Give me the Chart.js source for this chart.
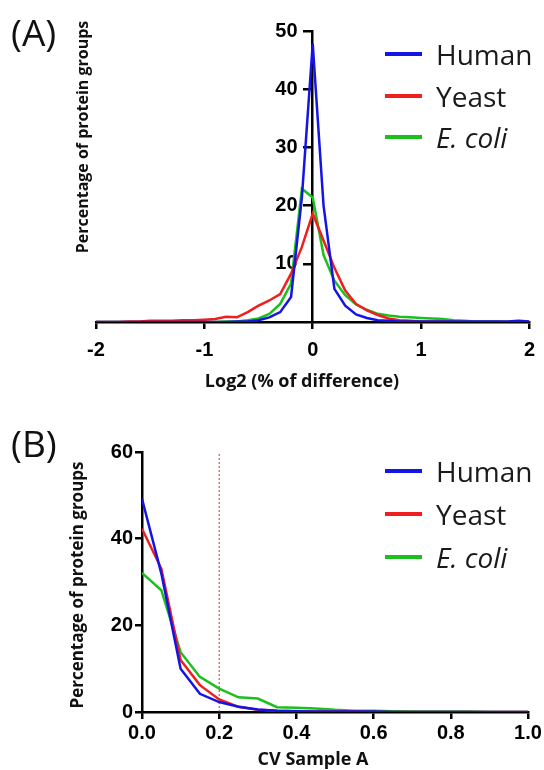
<!DOCTYPE html>
<html>
<head>
<meta charset="utf-8">
<script src="https://cdn.jsdelivr.net/npm/chart.js@4.4.1/dist/chart.umd.min.js"></script>
<style>
  body { margin: 0; background: #fff; }
  #wrap { position: relative; width: 544px; height: 770px; overflow: hidden; font-family: "Open Sans", sans-serif; color: #111; }
  canvas { position: absolute; left: 0; }
  .panel { position: absolute; font-size: 37px; line-height: 1; }
  .ytitle, .xtitle { position: absolute; font-weight: bold; white-space: nowrap; }
  .ytitle { font-size: 16px; transform: translate(-50%, -50%) rotate(-90deg); }
  .xtitle { font-size: 18px; transform: translate(-50%, -50%); }
  .leg { position: absolute; left: 385px; height: 40px; display: flex; align-items: center; font-size: 28px; color: #1a1a1a; }
  .leg span { display: inline-block; width: 37px; height: 4px; margin-right: 14px; }
</style>
</head>
<body>
<div id="wrap">
  <canvas id="graficaA" width="544" height="400" style="top:0"></canvas>
  <canvas id="graficaB" width="544" height="350" style="top:420px"></canvas>

  <div class="panel" style="left:11px;top:13px">(A)</div>
  <div class="panel" style="left:11px;top:424px">(B)</div>

  <div class="ytitle" style="left:82px;top:137px">Percentage of protein groups</div>
  <div class="ytitle" style="left:76px;top:585px;font-size:17px">Percentage of protein groups</div>
  <div class="xtitle" style="left:302px;top:380px">Log2 (% of difference)</div>
  <div class="xtitle" style="left:313px;top:758px">CV Sample A</div>

  <div class="leg" style="top:34px"><span style="background:#1414e6"></span>Human</div>
  <div class="leg" style="top:76px"><span style="background:#f01e1e"></span>Yeast</div>
  <div class="leg" style="top:117px"><span style="background:#1cc01c"></span><i>E. coli</i></div>

  <div class="leg" style="top:451px"><span style="background:#1414e6"></span>Human</div>
  <div class="leg" style="top:494px"><span style="background:#f01e1e"></span>Yeast</div>
  <div class="leg" style="top:537px"><span style="background:#1cc01c"></span><i>E. coli</i></div>
</div>

<script>
// (A) Log2 difference distribution
const diffBins = [-2.0, -1.9, -1.8, -1.7, -1.6, -1.5, -1.4, -1.3, -1.2, -1.1,
                  -1.0, -0.9, -0.8, -0.7, -0.6, -0.5, -0.4, -0.3, -0.2, -0.1,
                  0.0,
                  0.1, 0.2, 0.3, 0.4, 0.5, 0.6, 0.7, 0.8, 0.9, 1.0,
                  1.1, 1.2, 1.3, 1.4, 1.5, 1.6, 1.7, 1.8, 1.9, 2.0];
const diffHuman = [0, 0, 0, 0, 0, 0, 0, 0, 0, 0,
                   0, 0, 0, 0.1, 0.1, 0.3, 0.8, 1.7, 4.3, 21.4,
                   47.8,
                   20, 5.7, 2.8, 1.3, 0.7, 0.3, 0.2, 0.1, 0.1, 0.1,
                   0.1, 0.1, 0.1, 0.1, 0.1, 0.1, 0.1, 0.1, 0.2, 0.1];
const diffYeast = [0, 0, 0, 0.1, 0.1, 0.2, 0.2, 0.2, 0.3, 0.3,
                   0.4, 0.5, 0.9, 0.8, 1.7, 2.8, 3.7, 4.8, 8.3, 12.9,
                   18.6,
                   14, 9.3, 5.4, 3.1, 2.0, 1.2, 0.6, 0.3, 0.2, 0.1,
                   0.1, 0.1, 0, 0, 0, 0, 0, 0, 0, 0];
const diffEcoli = [0, 0, 0, 0, 0, 0, 0, 0, 0, 0,
                   0, 0, 0.1, 0.1, 0.3, 0.6, 1.4, 3.1, 6.6, 22.9,
                   21.4,
                   11.5, 7.1, 4.6, 3.0, 2.1, 1.4, 1.1, 0.9, 0.8, 0.7,
                   0.6, 0.5, 0.3, 0.2, 0.1, 0.1, 0.1, 0, 0, 0];
const diffXTicks = [-2, -1, 0, 1, 2];
const diffYTicks = [10, 20, 30, 40, 50];

// (B) CV distribution
const cvBins = [0, 0.05, 0.1, 0.15, 0.2, 0.25, 0.3, 0.35, 0.4, 0.45, 0.5,
                0.55, 0.6, 0.65, 0.7, 0.75, 0.8, 0.85, 0.9, 0.95, 1.0];
const cvHuman = [49.2, 32, 10, 4.2, 2.3, 1.2, 0.6, 0.3, 0.2, 0.1, 0.1,
                 0.1, 0.1, 0, 0, 0, 0, 0, 0, 0, 0];
const cvYeast = [42.3, 33.1, 12, 6.2, 2.9, 1.2, 0.5, 0.3, 0.2, 0.1, 0.1,
                 0.1, 0, 0, 0, 0, 0, 0, 0, 0, 0];
const cvEcoli = [32.1, 28.1, 13.8, 8.1, 5.4, 3.4, 3.1, 1.1, 1.0, 0.8, 0.5,
                 0.3, 0.3, 0.2, 0.1, 0.1, 0.1, 0.1, 0, 0, 0];
const cvCutoff = 0.2;
const cvXTicks = [0, 0.2, 0.4, 0.6, 0.8, 1.0];
const cvYTicks = [0, 20, 40, 60];

const colHuman = '#1414e6';
const colYeast = '#f01e1e';
const colEcoli = '#1cc01c';

const toPoints = (xs, ys) => xs.map((x, i) => ({ x: x, y: ys[i] }));
const setTicks = list => scale => { scale.ticks = list.map(v => ({ value: v })); };

const tickFont = { family: 'Liberation Sans', size: 20, weight: 'bold' };
const gridStyle = { drawOnChartArea: false, color: '#000', lineWidth: 2.5, tickLength: 7 };
const borderStyle = { color: '#000', width: 2.5 };

const baseOptions = {
    responsive: false,
    animation: false,
    events: [],
    plugins: { legend: { display: false }, tooltip: { enabled: false } },
    elements: { point: { radius: 0 }, line: { borderWidth: 2.5, tension: 0 } }
};

document.addEventListener('DOMContentLoaded', function () {
    new Chart(document.getElementById('graficaA'), {
        type: 'line',
        data: {
            datasets: [
                { label: 'Human', data: toPoints(diffBins, diffHuman), borderColor: colHuman },
                { label: 'Yeast', data: toPoints(diffBins, diffYeast), borderColor: colYeast },
                { label: 'E. coli', data: toPoints(diffBins, diffEcoli), borderColor: colEcoli }
            ]
        },
        options: {
            ...baseOptions,
            layout: { padding: { left: 96, right: 12, top: 31, bottom: 0 } },
            scales: {
                x: {
                    type: 'linear', min: -2, max: 2,
                    afterBuildTicks: setTicks(diffXTicks),
                    afterFit: s => { s.height = 78; },
                    grid: gridStyle, border: borderStyle,
                    ticks: { color: '#000', font: tickFont, padding: 9 }
                },
                // axis line crosses at x = 0
                y: {
                    type: 'linear', min: 0, max: 50,
                    position: { x: 0 },
                    afterBuildTicks: setTicks(diffYTicks),
                    grid: { ...gridStyle, tickLength: 8 }, border: borderStyle,
                    ticks: { display: false }
                },
                // labels only, a bit left of the axis line
                yl: {
                    type: 'linear', min: 0, max: 50,
                    position: { x: -0.14 },
                    afterBuildTicks: setTicks(diffYTicks),
                    grid: { display: false }, border: { display: false },
                    ticks: { color: '#000', font: tickFont }
                }
            }
        }
    });

    new Chart(document.getElementById('graficaB'), {
        type: 'line',
        data: {
            datasets: [
                { label: 'Human', data: toPoints(cvBins, cvHuman), borderColor: colHuman },
                { label: 'Yeast', data: toPoints(cvBins, cvYeast), borderColor: colYeast },
                { label: 'E. coli', data: toPoints(cvBins, cvEcoli), borderColor: colEcoli },
                // cut-off line at CV 0.2
                {
                    label: 'cutoff',
                    data: [{ x: cvCutoff, y: 0 }, { x: cvCutoff, y: cvYTicks[cvYTicks.length - 1] }],
                    borderColor: '#b8383a', borderWidth: 1, borderDash: [2, 2]
                }
            ]
        },
        options: {
            ...baseOptions,
            layout: { padding: { left: 102, right: 16, top: 32, bottom: 0 } },
            scales: {
                x: {
                    type: 'linear', min: 0, max: 1,
                    afterBuildTicks: setTicks(cvXTicks),
                    afterFit: s => { s.height = 58; },
                    grid: gridStyle, border: borderStyle,
                    ticks: { color: '#000', font: tickFont, padding: 2, callback: v => v.toFixed(1) }
                },
                y: {
                    type: 'linear', min: 0, max: 60,
                    afterBuildTicks: setTicks(cvYTicks),
                    afterFit: s => { s.width = 40; },
                    grid: gridStyle, border: borderStyle,
                    ticks: { color: '#000', font: tickFont, padding: 2 }
                }
            }
        }
    });
});
</script>
</body>
</html>
